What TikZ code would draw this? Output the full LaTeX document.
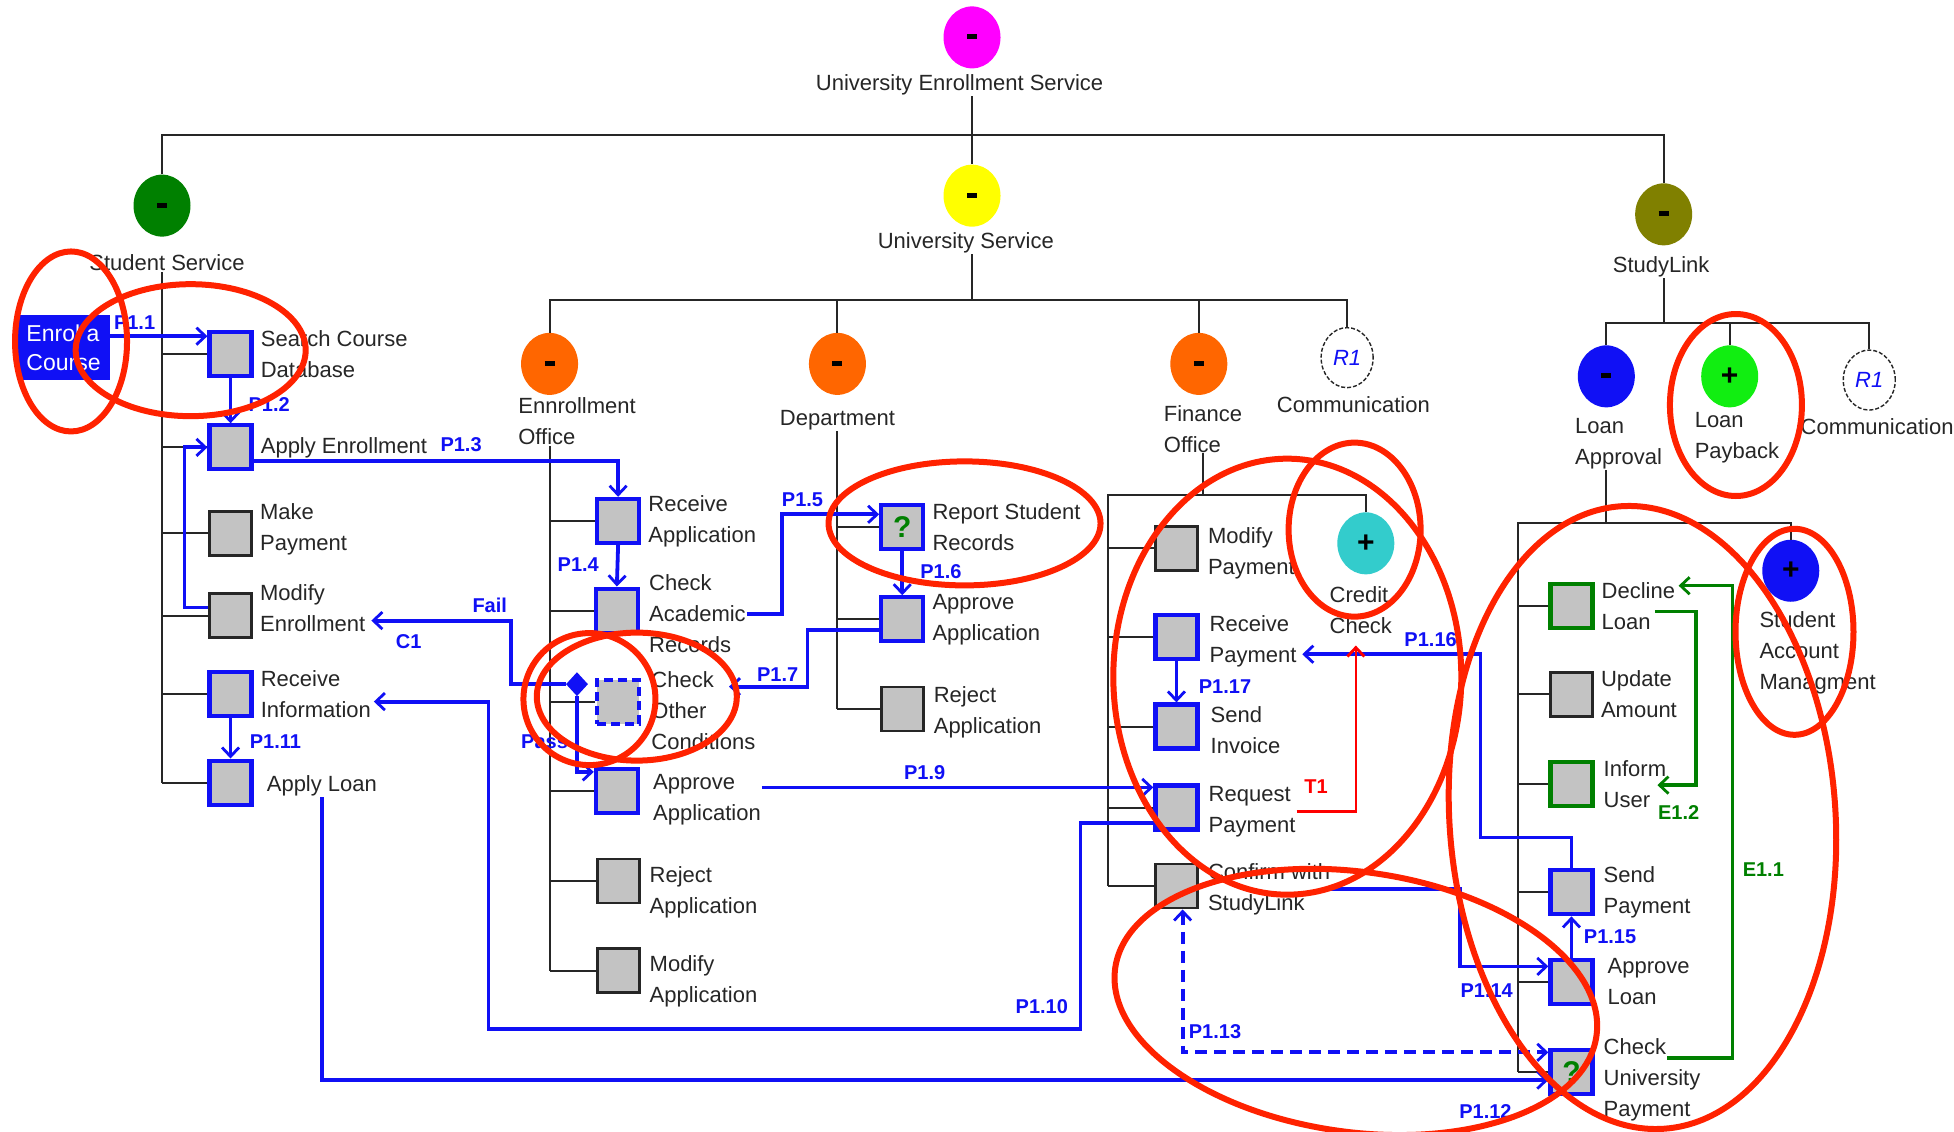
\documentclass[tikz,border=0pt]{standalone}
\usepackage{fontspec}
\setmainfont{Liberation Sans}
\usetikzlibrary{arrows.meta,positioning,shapes.geometric}
\definecolor{ink}{HTML}{262626}
\definecolor{flowblue}{HTML}{1010F5}
\definecolor{boxgray}{HTML}{C3C3C3}
\definecolor{svcmag}{HTML}{FF00FF}
\definecolor{svcyellow}{HTML}{FFFF00}
\definecolor{svcgreen}{HTML}{008000}
\definecolor{svcolive}{HTML}{808000}
\definecolor{svcorange}{HTML}{FF6600}
\definecolor{svclime}{HTML}{11EE11}
\definecolor{svcteal}{HTML}{33CCCC}
\definecolor{okgreen}{HTML}{008000}
\definecolor{ringred}{HTML}{FF2200}
\definecolor{tred}{HTML}{FF0000}
\tikzset{
  treeline/.style={draw=ink, line width=2pt},
  svc/.style={ellipse, minimum width=57pt, minimum height=62pt, inner sep=0pt, text=black},
  rolecirc/.style={ellipse, draw=ink, dash pattern=on 4pt off 2pt, line width=1.4pt, minimum width=52pt,
                   minimum height=60pt, inner sep=0pt, text=flowblue, font=\itshape\fontsize{22}{22}\selectfont},
  act/.style={rectangle, fill=boxgray, draw=ink, line width=2.8pt, minimum width=42pt,
              minimum height=44pt, inner sep=0pt},
  actb/.style={act, draw=flowblue, line width=4.2pt},
  actg/.style={act, draw=okgreen, line width=4.2pt},
  actd/.style={actb, dash pattern=on 9pt off 5pt},
  enrol/.style={rectangle, fill=flowblue, text=white, minimum width=92pt, minimum height=65pt,
                inner sep=2pt, align=left, font=\fontsize{23}{29}\selectfont},
  lbl/.style={font=\fontsize{22}{31}\selectfont, text=ink, align=left, inner sep=1pt},
  plab/.style={font=\bfseries\fontsize{20}{20}\selectfont, text=flowblue, inner sep=0pt},
  elab/.style={plab, text=okgreen},
  tlab/.style={plab, text=tred},
  tipb/.tip={Straight Barb[length=9pt, width=17pt, line width=2.8pt]},
  flow/.style={draw=flowblue, line width=3.8pt, -tipb},
  eflow/.style={flow, draw=okgreen, line width=3.2pt},
  tflow/.style={flow, draw=tred, line width=2.6pt},
  redring/.style={draw=ringred, line width=6pt},
}
\newcommand{\svcmin}{\rule[1pt]{10pt}{5pt}}
\newcommand{\svcplus}{{\fontsize{30}{30}\selectfont\bfseries +}}
\newcommand{\qmark}{\textcolor{okgreen}{\bfseries\fontsize{30}{30}\selectfont ?}}

\begin{document}
\begin{tikzpicture}[x=1.2462pt, y=-1.2462pt]
  \useasboundingbox (0,0) rectangle (1568,908);
  \fill[white] (0,0) rectangle (1568,908);
  \clip (0,0) rectangle (1568,908);

  % services and roles
  \node[svc, fill=svcmag] (root) at (780,30) {\svcmin};
  \node[lbl] (rootT) at (770,68) {University Enrollment Service};
  \node[svc, fill=svcgreen] (ss) at (130,165) {\svcmin};
  \node[lbl] (ssT) at (134,211) {Student Service};
  \node[svc, fill=svcyellow] (us) at (780,157) {\svcmin};
  \node[lbl] (usT) at (775,195) {University Service};
  \node[svc, fill=svcolive] (sl) at (1335,172) {\svcmin};
  \node[lbl] (slT) at (1333,214) {StudyLink};
  \node[svc, fill=svcorange] (eoff) at (441,292) {\svcmin};
  \node[lbl, anchor=west] (eoffT) at (415,338) {Ennrollment\\Office};
  \node[svc, fill=svcorange] (dept) at (672,292) {\svcmin};
  \node[lbl] (deptT) at (672,337) {Department};
  \node[svc, fill=svcorange] (foff) at (962,292) {\svcmin};
  \node[lbl, anchor=west] (foffT) at (933,344) {Finance\\Office};
  \node[rolecirc] (comm1) at (1081,287) {R1};
  \node[lbl] (comm1T) at (1086,325) {Communication};
  \node[svc, fill=flowblue] (lap) at (1289,302) {\svcmin};
  \node[lbl, anchor=west] (lapT) at (1263,356) {Loan\\Approval};
  \node[svc, fill=svclime] (lpb) at (1388,302) {\svcplus};
  \node[lbl, anchor=west] (lpbT) at (1359,351) {Loan\\Payback};
  \node[rolecirc] (comm2) at (1500,305) {R1};
  \node[lbl, anchor=west] (comm2T) at (1444,342) {Communication};
  \node[svc, fill=svcteal] (cc) at (1096,436) {\svcplus};
  \node[lbl, anchor=west] (ccT) at (1066,490) {Credit\\Check};
  \node[svc, fill=flowblue] (sam) at (1437,458) {\svcplus};
  \node[lbl, anchor=west] (samT) at (1411,524) {Student\\Account\\Managment};

  \node[enrol] (enrol) at (51,279) {Enrol a\\Course};

  % activities
  \node[actb] (ss1) at (185,284) {};
  \node[actb] (ss2) at (185,359) {};
  \node[act]  (ss3) at (185,428) {};
  \node[act]  (ss4) at (185,494) {};
  \node[actb] (ss5) at (185,557) {};
  \node[actb] (ss6) at (185,628) {};
  \node[actb] (eo1) at (496,418) {};
  \node[actb] (eo2) at (495,490) {};
  \node[actd] (eo3) at (496,563) {};
  \node[actb] (eo4) at (495,635) {};
  \node[act]  (eo5) at (496,707) {};
  \node[act]  (eo6) at (496,779) {};
  \node[actb] (dp1) at (724,423) {\qmark};
  \node[actb] (dp2) at (724,497) {};
  \node[act]  (dp3) at (724,569) {};
  \node[act]  (fo1) at (944,440) {};
  \node[actb] (fo2) at (944,511) {};
  \node[actb] (fo3) at (944,583) {};
  \node[actb] (fo4) at (944,648) {};
  \node[act]  (fo5) at (944,711) {};
  \node[actg] (la1) at (1261,486) {};
  \node[act]  (la2) at (1261,557) {};
  \node[actg] (la3) at (1261,629) {};
  \node[actb] (la4) at (1261,716) {};
  \node[actb] (la5) at (1261,788) {};
  \node[actb] (la6) at (1261,860) {\qmark};
  \node[diamond, fill=flowblue, minimum width=22pt, minimum height=24pt, inner sep=0pt] (dia) at (463,549) {};

  \node[lbl, right=6pt of ss1] (ss1t) {Search Course\\Database};
  \node[lbl, right=6pt of ss2] (ss2t) {Apply Enrollment};
  \node[lbl, right=6pt of ss3, yshift=4pt] (ss3t) {Make\\Payment};
  \node[lbl, right=6pt of ss4, yshift=7pt] (ss4t) {Modify\\Enrollment};
  \node[lbl, right=6pt of ss5] (ss5t) {Receive\\Information};
  \node[lbl, right=12pt of ss6, yshift=-3pt] (ss6t) {Apply Loan};
  \node[lbl, right=6pt of eo1] (eo1t) {Receive\\Application};
  \node[lbl, right=8pt of eo2, yshift=-3pt] (eo2t) {Check\\Academic\\Records};
  \node[lbl, right=9pt of eo3, yshift=-9pt] (eo3t) {Check\\Other\\Conditions};
  \node[lbl, right=12pt of eo4, yshift=-8pt] (eo4t) {Approve\\Application};
  \node[lbl, right=8pt of eo5, yshift=-11pt] (eo5t) {Reject\\Application};
  \node[lbl, right=8pt of eo6, yshift=-11pt] (eo6t) {Modify\\Application};
  \node[lbl, right=6pt of dp1] (dp1t) {Report Student\\Records};
  \node[lbl, right=6pt of dp2] (dp2t) {Approve\\Application};
  \node[lbl, right=8pt of dp3, yshift=-3pt] (dp3t) {Reject\\Application};
  \node[lbl, right=8pt of fo1, yshift=-5pt] (fo1t) {Modify\\Payment};
  \node[lbl, right=9pt of fo2, yshift=-5pt] (fo2t) {Receive\\Payment};
  \node[lbl, right=10pt of fo3, yshift=-4pt] (fo3t) {Send\\Invoice};
  \node[lbl, right=8pt of fo4, yshift=-4pt] (fo4t) {Request\\Payment};
  \node[lbl, right=8pt of fo5, yshift=-3pt] (fo5t) {Confirm with\\StudyLink};
  \node[lbl, right=6pt of la1] (la1t) {Decline\\Loan};
  \node[lbl, right=6pt of la2] (la2t) {Update\\Amount};
  \node[lbl, right=8pt of la3] (la3t) {Inform\\User};
  \node[lbl, right=8pt of la4] (la4t) {Send\\Payment};
  \node[lbl, right=12pt of la5] (la5t) {Approve\\Loan};
  \node[lbl, right=8pt of la6, yshift=-8pt] (la6t) {Check\\University\\Payment};

  % decomposition tree
  \coordinate (topbar) at (780,108);
  \coordinate (usbar) at (780,241);
  \coordinate (slbar) at (1335,259);
  \coordinate (fotrunk) at (889,397);
  \coordinate (latrunk) at (1218,420);
  \draw[treeline] (root |- rootT.south) -- (us.north);
  \draw[treeline] (ss.north) |- (topbar) -| (sl.north);
  \draw[treeline] (us |- usT.south) -- (usbar);
  \draw[treeline] (eoff.north) |- (usbar) -| (comm1.north);
  \draw[treeline] (dept.north) -- (dept.north |- usbar);
  \draw[treeline] (foff.north) -- (foff.north |- usbar);
  \draw[treeline] (sl |- slT.south) -- (slbar);
  \draw[treeline] (lap.north) |- (slbar) -| (comm2.north);
  \draw[treeline] (lpb.north) -- (lpb.north |- slbar);
  \draw[treeline] (ssT.south -| ss) -- (ss6.west -| ss);
  \foreach \b in {ss1,ss2,ss3,ss4,ss5,ss6} \draw[treeline] (\b.west) -- (\b.west -| ss);
  \draw[treeline] (eoffT.south -| eoff) -- (eo6.west -| eoff);
  \foreach \b in {eo1,eo2,eo3,eo4,eo5,eo6} \draw[treeline] (\b.west) -- (\b.west -| eoff);
  \draw[treeline] (deptT.south -| dept) -- (dp3.west -| dept);
  \foreach \b in {dp1,dp2,dp3} \draw[treeline] (\b.west) -- (\b.west -| dept);
  \draw[treeline] (foffT.south) |- (fotrunk);
  \draw[treeline] (cc.north) |- (fotrunk) -- (fotrunk |- fo5.west);
  \foreach \b in {fo1,fo2,fo3,fo4,fo5} \draw[treeline] (\b.west) -- (\b.west -| fotrunk);
  \draw[treeline] (lapT.south -| lap) |- (latrunk);
  \draw[treeline] (sam.north) |- (latrunk) -- (latrunk |- la6.west);
  \foreach \b in {la1,la2,la3,la4,la5,la6} \draw[treeline] (\b.west) -- (\b.west -| latrunk);

  % message flows
  \coordinate (p7end) at (585,551);
  \coordinate (failend) at (298,498);
  \coordinate (p10end) at (300,563);
  \coordinate (p16end) at (1045,525);
  \coordinate (t1end) at (1088,518);
  \coordinate (e11start) at (1338,849);
  \coordinate (e11end) at (1347,470);
  \coordinate (e12start) at (1328,491);
  \coordinate (e12end) at (1330,630);
  \draw[flow] (enrol.14) -- (enrol.14 -| ss1.west);
  \draw[flow] (ss1.south) -- (ss2.north);
  \draw[flow] (ss2.-31) -| (eo1.north);
  \draw[flow] (ss4.160) -- ++(-19,0) |- (ss2.west);
  \draw[flow] (eo1.south) -- (eo2.north);
  \draw[flow] (eo2t.east) -- ++(28,0) |- (dp1.151);
  \draw[flow] (dp1.south) -- (dp2.north);
  \draw[flow] (dp2.204) -| (648,551) -- (p7end);
  \draw[flow] (dia.west) -| (410,498) -- (failend);
  \draw[flow] (dia.south) |- (eo4.140);
  \draw[flow] (eo4t.east |- fo4.139) -- (fo4.139);
  \draw[flow] (fo4.214) -| (867,826) -| (392,563) -- (p10end);
  \draw[flow] (ss5.south) -- (ss6.north);
  \draw[flow] (ss6t.south) |- (la6.200);
  \draw[flow, tipb-tipb, dash pattern=on 12pt off 7pt] (fo5.-75) |- (la6.140);
  \draw[flow] (fo5t.east) -- ++(103,0) |- (la5.146);
  \draw[flow] (la5.north) -- (la4.south);
  \draw[flow] (la4.north) |- (1188,672) |- (p16end);
  \draw[flow] (fo2.south) -- (fo3.north);
  \draw[tflow] (fo4t.east) -| (t1end);
  \draw[eflow] (e11start) -| (1390,470) -- (e11end);
  \draw[eflow] (e12start) -| (1361,630) -- (e12end);

  \node[plab] (n11) at (108,259) {P1.1};
  \node[plab] (n12) at (216,325) {P1.2};
  \node[plab] (n13) at (370,357) {P1.3};
  \node[plab] (n14) at (464,453) {P1.4};
  \node[plab] (n15) at (644,401) {P1.5};
  \node[plab] (n16) at (755,459) {P1.6};
  \node[plab] (n17) at (624,541) {P1.7};
  \node[plab] (nfail) at (393,486) {Fail};
  \node[plab] (nc1) at (328,515) {C1};
  \node[plab] (npass) at (437,595) {Pass};
  \node[plab] (n19) at (742,620) {P1.9};
  \node[plab] (n110) at (836,808) {P1.10};
  \node[plab] (n111) at (221,595) {P1.11};
  \node[plab] (n112) at (1192,892) {P1.12};
  \node[plab] (n113) at (975,828) {P1.13};
  \node[plab] (n114) at (1193,795) {P1.14};
  \node[plab] (n115) at (1292,752) {P1.15};
  \node[plab] (n116) at (1148,513) {P1.16};
  \node[plab] (n117) at (983,551) {P1.17};
  \node[tlab] (nt1) at (1056,631) {T1};
  \node[elab] (ne11) at (1415,698) {E1.1};
  \node[elab] (ne12) at (1347,652) {E1.2};

  % hand-drawn highlights
  \draw[redring] (57,274) ellipse [x radius=56pt, y radius=90pt];
  \draw[redring] (153,281) ellipse [x radius=115pt, y radius=66pt];
  \draw[redring] (774,420) ellipse [x radius=136pt, y radius=62pt];
  \draw[redring] (473,561) ellipse [x radius=66pt, y radius=66pt];
  \draw[redring] (511,559) ellipse [x radius=100pt, y radius=64pt];
  \draw[redring] (1033,543) ellipse [x radius=174pt, y radius=218pt];
  \draw[redring] (1087,425) ellipse [x radius=66pt, y radius=87pt];
  \draw[redring] (1393,325) ellipse [x radius=66pt, y radius=91pt];
  \draw[redring] (1440,507) ellipse [x radius=59pt, y radius=103pt];
  \draw[redring, rotate around={4:(1318,656)}] (1318,656) ellipse [x radius=193pt, y radius=312pt];
  \draw[redring, rotate around={-8:(1088,804)}] (1088,804) ellipse [x radius=243pt, y radius=130pt];
\end{tikzpicture}
\end{document}
